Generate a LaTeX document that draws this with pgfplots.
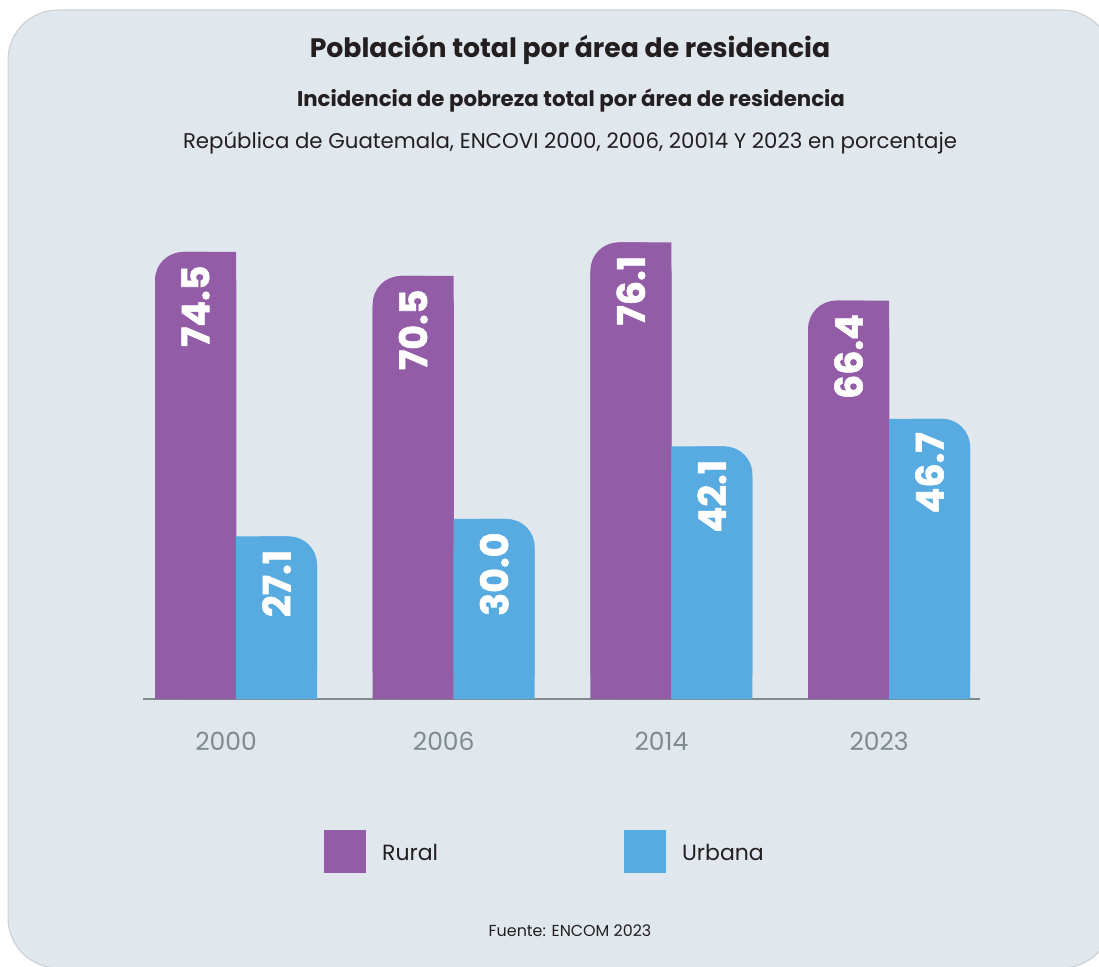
\documentclass[border=0pt]{standalone}
\usepackage{fontspec}
\setmainfont{Poppins}
\newfontfamily\heavy{Poppins}[UprightFont={* Bold}, FakeBold=1.5]
\usepackage{pgfplots}
\pgfplotsset{compat=1.18}
\usepackage{pgfplotstable}
\definecolor{bg}{HTML}{E0E7ED}
\definecolor{bgborder}{HTML}{C9CED3}
\definecolor{rural}{HTML}{925CA6}
\definecolor{urbana}{HTML}{58ABE0}
\definecolor{axgray}{HTML}{808C8C}
\definecolor{txt}{HTML}{231F20}
\pgfplotstableread{
x r u
0 74.5 27.1
1 70.5 30.0
2 76.1 42.1
3 66.4 46.7
}\data
\begin{document}
\begin{tikzpicture}[x=1pt,y=1pt]
\path[use as bounding box] (0,0) rectangle (1099,966);
\begin{scope}
\clip (0,0) rectangle (1099,966);
\draw[bgborder, fill=bg, line width=1pt, rounded corners=50pt] (8,-2) rectangle (1112,956);
\end{scope}
\node[font=\fontsize{26.7}{30}\selectfont\bfseries, text=txt, anchor=base] at (570,908) {Población total por área de residencia};
\node[font=\fontsize{21.3}{24}\selectfont\bfseries, text=txt, anchor=base] at (571,859) {Incidencia de pobreza total por área de residencia};
\node[font=\fontsize{21.3}{25}\selectfont, text=txt, anchor=base] at (570,817) {República de Guatemala, ENCOVI 2000, 2006, 20014 Y 2023 en porcentaje};
\node[font=\fontsize{15.9}{18}\selectfont, text=txt, anchor=base] at (570,29.3) {Fuente: ENCOM 2023};
\begin{axis}[
  at={(143pt,267pt)}, anchor=south west,
  scale only axis, width=837pt, height=480pt,
  xmin=-0.4272, xmax=3.4175, ymin=0, ymax=80,
  clip=false,
  axis y line=none, axis x line=bottom,
  x axis line style={-, draw=axgray, line width=2.5pt},
  xtick={0,1,2,3}, xticklabels={2000,2006,2014,2023},
  major tick length=0pt,
  xticklabel style={font=\fontsize{25}{25}\selectfont, text=axgray, anchor=base, xshift=-10pt, yshift=-51.7pt},
  legend columns=2,
  legend image code/.code={\fill[#1, sharp corners] (0pt,-19.5pt) rectangle (42pt,23.5pt);},
  legend style={at={(0.2162,-0.3177)}, anchor=west, draw=none, fill=none, inner sep=0pt,
    font=\fontsize{22}{22}\selectfont, text=txt, nodes={inner sep=0pt},
    /tikz/every odd column/.append style={column sep=16pt},
    /tikz/every even column/.append style={column sep=186pt}},
]
% Rural helpers
\addplot[ybar, forget plot, bar width=53pt, bar shift=-26.5pt, fill=rural, draw=none] table[x=x,y=r]{\data};
\addplot[ybar, forget plot, bar width=81pt, bar shift=-40.5pt, fill=rural, draw=none] table[x=x,y expr=\thisrow{r}-5]{\data};
\addplot[ybar, bar width=81pt, bar shift=-40.5pt, fill=rural, draw=none, rounded corners=28pt,
  nodes near coords={\pgfmathprintnumber[fixed,fixed zerofill,precision=1,assume math mode=true]{\pgfplotspointmeta}},
  every node near coord/.append style={font=\fontsize{38}{38}\selectfont\heavy, text=white, xshift=-40.5pt, yshift=-10pt, rotate=90, anchor=east}]
  table[x=x,y=r]{\data};
\addlegendentry{Rural}
% Urbana helpers
\addplot[ybar, forget plot, bar width=53pt, bar shift=26.5pt, fill=urbana, draw=none] table[x=x,y=u]{\data};
\addplot[ybar, forget plot, bar width=81pt, bar shift=40.5pt, fill=urbana, draw=none] table[x=x,y expr=\thisrow{u}-5]{\data};
\addplot[ybar, bar width=81pt, bar shift=40.5pt, fill=urbana, draw=none, rounded corners=28pt,
  nodes near coords={\pgfmathprintnumber[fixed,fixed zerofill,precision=1,assume math mode=true]{\pgfplotspointmeta}},
  every node near coord/.append style={font=\fontsize{38}{38}\selectfont\heavy, text=white, xshift=40.5pt, yshift=-10pt, rotate=90, anchor=east}]
  table[x=x,y=u]{\data};
\addlegendentry{Urbana}
\end{axis}
\end{tikzpicture}
\end{document}
